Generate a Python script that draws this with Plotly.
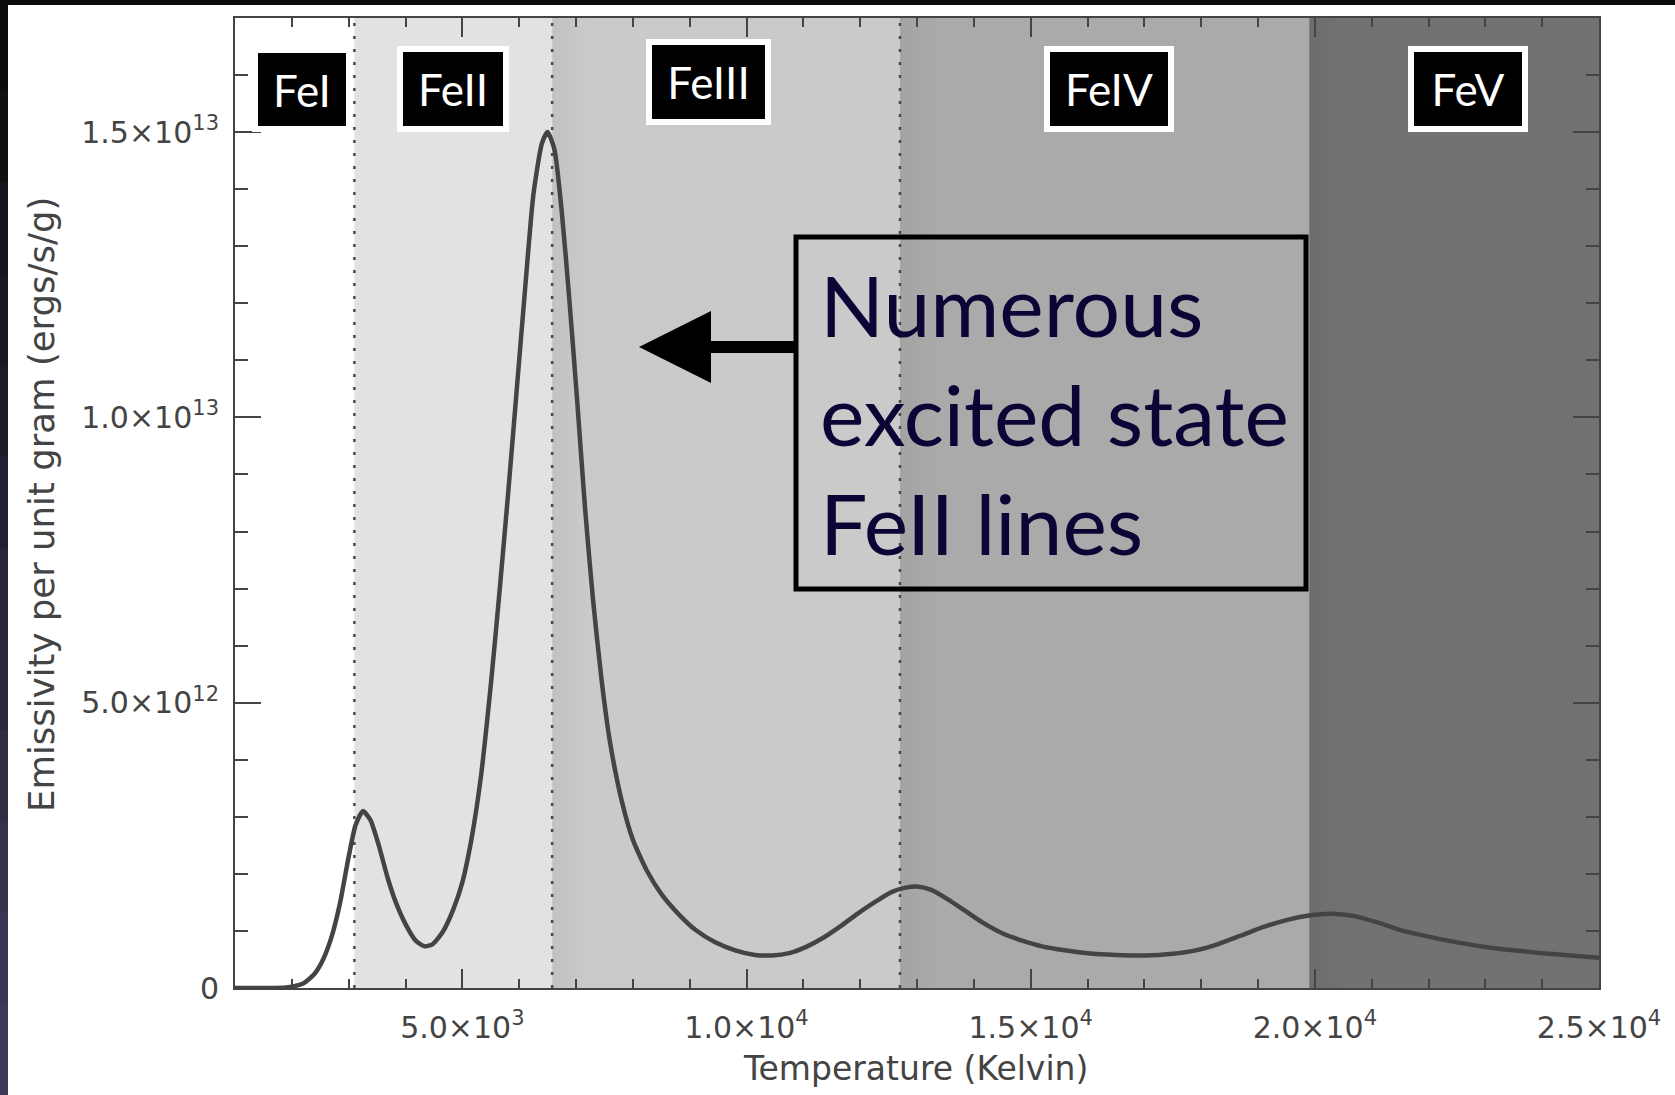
import plotly.graph_objects as go

# Emissivity of iron lines per unit gram as a function of temperature
temperature_k = [1000, 1500, 1900, 2200, 2400, 2550, 2700, 2850, 3000, 3120,
                 3250, 3380, 3530, 3680, 3830, 4000, 4180, 4340, 4480, 4660,
                 4850, 5000, 5150, 5320, 5500, 5650, 5800, 5950, 6100, 6250,
                 6400, 6500, 6620, 6750, 6880, 7020, 7160, 7300, 7450, 7600,
                 7800, 8000, 8250, 8500, 8800, 9100, 9450, 9800, 10150, 10450,
                 10750, 11050, 11350, 11650, 11950, 12250, 12550, 12800, 13000, 13250,
                 13550, 13850, 14150, 14500, 14850, 15200, 15600, 16000, 16500, 17000,
                 17500, 17900, 18300, 18700, 19100, 19500, 19900, 20300, 20700, 21100,
                 21500, 22000, 22500, 23000, 23500, 24000, 24500, 25000]
emissivity = [0.0, 0.0, 0.01e12, 0.08e12, 0.25e12, 0.5e12, 0.9e12, 1.5e12, 2.3e12, 2.85e12,
              3.1e12, 2.95e12, 2.5e12, 1.95e12, 1.5e12, 1.12e12, 0.83e12, 0.73e12, 0.77e12, 0.99e12,
              1.4e12, 1.85e12, 2.55e12, 3.65e12, 5.3e12, 6.9e12, 8.6e12, 10.4e12, 12.2e12, 13.9e12,
              14.8e12, 15.0e12, 14.7e12, 13.6e12, 12.1e12, 10.3e12, 8.4e12, 6.8e12, 5.4e12, 4.3e12,
              3.3e12, 2.6e12, 2.05e12, 1.65e12, 1.3e12, 1.02e12, 0.8e12, 0.66e12, 0.58e12, 0.57e12,
              0.61e12, 0.72e12, 0.88e12, 1.08e12, 1.3e12, 1.5e12, 1.68e12, 1.76e12, 1.78e12, 1.72e12,
              1.55e12, 1.35e12, 1.15e12, 0.96e12, 0.83e12, 0.73e12, 0.66e12, 0.61e12, 0.58e12, 0.57e12,
              0.6e12, 0.66e12, 0.77e12, 0.92e12, 1.07e12, 1.19e12, 1.27e12, 1.3e12, 1.26e12, 1.15e12,
              1.02e12, 0.9e12, 0.8e12, 0.72e12, 0.66e12, 0.61e12, 0.57e12, 0.53e12]

# Dominant ionisation stage bands
ion_labels = ["FeI", "FeII", "FeIII", "FeIV", "FeV"]
ion_edges = [1000, 3100, 6580, 12700, 19900, 25000]
ion_label_x = [2180, 4830, 9330, 16380, 22690]
dotted_edges = [3100, 6580, 12700]

x_tickvals = [5000, 10000, 15000, 20000, 25000]
x_ticktext = ["5.0×10<sup>3</sup>", "1.0×10<sup>4</sup>", "1.5×10<sup>4</sup>",
              "2.0×10<sup>4</sup>", "2.5×10<sup>4</sup>"]
y_tickvals = [0, 5e12, 1e13, 1.5e13]
y_ticktext = ["0", "5.0×10<sup>12</sup>", "1.0×10<sup>13</sup>", "1.5×10<sup>13</sup>"]

note_lines = ["Numerous", "excited state", "FeII lines"]

W, H = 1675, 1095
ML, MR, MT, MB = 235, 76, 18, 107
PW, PH = W - ML - MR, H - MT - MB


def px_x(p):
    return (p - ML) / PW


def px_y(p):
    return (H - MB - p) / PH


band_fill = ["#ffffff", "#e2e2e2", "#cacaca", "#aaaaaa", "#727272"]
label_style = [  # (inner width, inner height)
    (88, 73), (100, 74), (113, 74), (118, 74), (108, 74)]
label_y = [90, 89, 82, 89, 89]

fig = go.Figure()
fig.add_trace(go.Scatter(
    x=temperature_k, y=emissivity, mode="lines",
    line=dict(color="#444444", width=4.5, shape="spline", smoothing=0.6),
    hoverinfo="skip", showlegend=False))

shapes = []
for i in range(len(ion_labels)):
    shapes.append(dict(type="rect", xref="x", yref="paper",
                       x0=ion_edges[i], x1=ion_edges[i + 1], y0=0, y1=1,
                       fillcolor=band_fill[i], line=dict(width=0), layer="below"))
# soft shading just inside each darker band
shade_steps = 8
shade_width = 600.0
for xe in ion_edges[2:-1]:
    for s in range(shade_steps):
        shapes.append(dict(type="rect", xref="x", yref="paper",
                           x0=xe + s * shade_width / shade_steps,
                           x1=xe + (s + 1) * shade_width / shade_steps, y0=0, y1=1,
                           fillcolor="#000000", opacity=0.035 * (1 - s / shade_steps),
                           line=dict(width=0), layer="below"))
for xe in dotted_edges:
    shapes.append(dict(type="line", xref="x", yref="paper", x0=xe, x1=xe, y0=0, y1=1,
                       line=dict(color="#4a4a4a", width=2.5, dash="3px,10px"), layer="below"))

# framed note box
shapes.append(dict(type="rect", xref="paper", yref="paper",
                   x0=px_x(796), x1=px_x(1306), y0=px_y(237), y1=px_y(589),
                   line=dict(color="#000000", width=5), fillcolor="rgba(0,0,0,0)"))

# dark page edges
shapes.append(dict(type="rect", xref="paper", yref="paper",
                   x0=px_x(0), x1=px_x(W), y0=px_y(0), y1=px_y(5),
                   fillcolor="#0c0c0e", line=dict(width=0)))
n_seg = 12
for k in range(n_seg):
    t = k / (n_seg - 1)
    r = int(12 + t * (62 - 12))
    g = int(12 + t * (58 - 12))
    b = int(14 + t * (90 - 14))
    shapes.append(dict(type="rect", xref="paper", yref="paper",
                       x0=px_x(0), x1=px_x(8),
                       y0=px_y(k * H / n_seg), y1=px_y((k + 1) * H / n_seg + 1),
                       fillcolor=f"rgb({r},{g},{b})", line=dict(width=0)))

annotations = []
for i, name in enumerate(ion_labels):
    w, h = label_style[i]
    annotations.append(dict(
        x=ion_label_x[i], xref="x", y=px_y(label_y[i]), yref="paper",
        text=name, showarrow=False, xanchor="center", yanchor="middle",
        font=dict(family="Lato", size=44, color="#ffffff"),
        bgcolor="#000000", bordercolor="#ffffff", borderwidth=6, borderpad=0,
        width=w, height=h, align="center", valign="middle"))

annotations.append(dict(
    x=px_x(818), xref="paper", y=px_y(413), yref="paper",
    text="<br>".join(note_lines), showarrow=False, xanchor="left", yanchor="middle",
    align="left", font=dict(family="Lato", size=84, color="#0b0535")))

# arrow pointing back at the FeII peak
annotations.append(dict(
    x=px_x(639), xref="paper", y=px_y(347), yref="paper",
    ax=796 - 639, axref="pixel", ay=0, ayref="pixel",
    text="", showarrow=True, arrowhead=2, arrowsize=1.2, arrowwidth=12,
    arrowcolor="#000000", standoff=0))

annotations.append(dict(
    x=px_x(915), xref="paper", y=px_y(1068), yref="paper",
    text="Temperature (Kelvin)", showarrow=False, xanchor="center", yanchor="middle",
    font=dict(family="DejaVu Sans", size=33, color="#444444")))
annotations.append(dict(
    x=px_x(41), xref="paper", y=px_y(505), yref="paper",
    text="Emissivity per unit gram (ergs/s/g)", showarrow=False, textangle=-90,
    xanchor="center", yanchor="middle",
    font=dict(family="DejaVu Sans", size=35.5, color="#444444")))

axis_font = dict(family="DejaVu Sans", size=30, color="#444444")
fig.update_layout(
    width=W, height=H,
    margin=dict(l=ML, r=MR, t=MT, b=MB, pad=0),
    paper_bgcolor="#ffffff", plot_bgcolor="#ffffff",
    shapes=shapes, annotations=annotations, showlegend=False,
    xaxis=dict(range=[1000, 25000], tickmode="array", tickvals=x_tickvals, ticktext=x_ticktext,
               ticks="inside", ticklen=19, tickwidth=2, tickcolor="#444444",
               showline=True, linecolor="#444444", linewidth=2, mirror="ticks",
               showgrid=False, zeroline=False, tickfont=axis_font, ticklabelstandoff=12,
               minor=dict(tickmode="linear", tick0=0, dtick=1000, ticks="inside",
                          ticklen=9, tickwidth=2, tickcolor="#444444", showgrid=False)),
    yaxis=dict(range=[0, 1.7e13], tickmode="array", tickvals=y_tickvals, ticktext=y_ticktext,
               ticks="inside", ticklen=26, tickwidth=2, tickcolor="#444444",
               showline=True, linecolor="#444444", linewidth=2, mirror="ticks",
               showgrid=False, zeroline=False, tickfont=axis_font, ticklabelstandoff=8,
               minor=dict(tickmode="linear", tick0=0, dtick=1e12, ticks="inside",
                          ticklen=13, tickwidth=2, tickcolor="#444444", showgrid=False)),
)

fig.write_html("out.html")
